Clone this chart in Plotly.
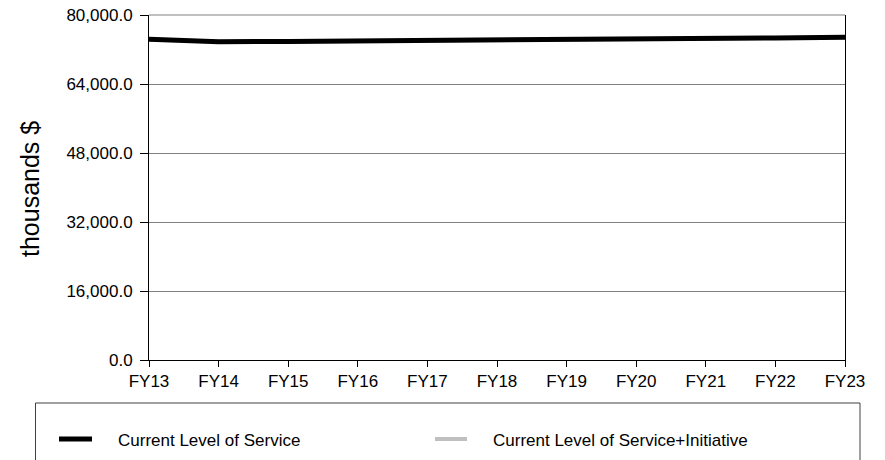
import plotly.graph_objects as go

years = ["FY13", "FY14", "FY15", "FY16", "FY17", "FY18", "FY19", "FY20", "FY21", "FY22", "FY23"]
current_service = [74380, 73780, 73880, 73960, 74050, 74150, 74280, 74400, 74520, 74680, 74840]
service_plus_initiative = [74380, 73780, 73880, 73960, 74050, 74150, 74280, 74400, 74520, 74680, 74840]
series_names = ["Current Level of Service", "Current Level of Service+Initiative"]
y_ticks = [0, 16000, 32000, 48000, 64000, 80000]
y_tick_labels = ["0.0", "16,000.0", "32,000.0", "48,000.0", "64,000.0", "80,000.0"]

W, H = 885, 460
L, R, T, B = 149, 40, 15, 100
PW, PH = W - L - R, H - T - B

def px(x):
    return (x - L) / PW

def py(y):
    return (H - B - y) / PH

FONT = "Liberation Sans, Arial, sans-serif"

fig = go.Figure()
fig.add_trace(go.Scatter(x=years, y=service_plus_initiative, mode="lines",
                         line=dict(color="#c0c0c0", width=4), name=series_names[1],
                         showlegend=False))
fig.add_trace(go.Scatter(x=years, y=current_service, mode="lines",
                         line=dict(color="#000000", width=5), name=series_names[0],
                         showlegend=False))

fig.update_layout(
    width=W, height=H,
    margin=dict(l=L, r=R, t=T, b=B),
    paper_bgcolor="white", plot_bgcolor="white",
    font=dict(family=FONT, size=17, color="#000000"),
    showlegend=False,
    xaxis=dict(
        type="category", range=[0, len(years) - 1], automargin=False,
        showline=True, linecolor="#000000", linewidth=1,
        ticks="outside", ticklen=6, tickcolor="#000000",
        showgrid=False, zeroline=False,
        tickfont=dict(size=17),
    ),
    yaxis=dict(
        range=[0, 80000], tickvals=y_ticks, ticktext=y_tick_labels, automargin=False,
        showline=True, linecolor="#000000", linewidth=1, mirror=True,
        ticks="outside", ticklen=8, tickcolor="#000000",
        ticklabelstandoff=4,
        showgrid=True, gridcolor="#808080", gridwidth=1,
        zeroline=False,
        tickfont=dict(size=17),
    ),
)

# top border (gray)
fig.add_shape(type="line", xref="paper", yref="paper", x0=0, x1=1, y0=1, y1=1,
              line=dict(color="#808080", width=1), layer="below")

# y-axis title
fig.add_annotation(text="thousands $", xref="paper", yref="paper",
                   x=px(30), y=py(189), textangle=-90, showarrow=False,
                   font=dict(size=25, family=FONT), xanchor="center", yanchor="middle")

# legend box
fig.add_shape(type="rect", xref="paper", yref="paper",
              x0=px(35.5), x1=px(860), y0=py(403), y1=py(475),
              line=dict(color="#404040", width=1), fillcolor="rgba(0,0,0,0)")
# legend samples
fig.add_shape(type="line", xref="paper", yref="paper",
              x0=px(59), x1=px(92), y0=py(439), y1=py(439),
              line=dict(color="#000000", width=5))
fig.add_shape(type="line", xref="paper", yref="paper",
              x0=px(435), x1=px(467), y0=py(439), y1=py(439),
              line=dict(color="#c0c0c0", width=4))
fig.add_annotation(text=series_names[0], xref="paper", yref="paper",
                   x=px(116), y=py(440), xanchor="left", yanchor="middle",
                   showarrow=False, font=dict(size=17, family=FONT))
fig.add_annotation(text=series_names[1], xref="paper", yref="paper",
                   x=px(491), y=py(440), xanchor="left", yanchor="middle",
                   showarrow=False, font=dict(size=17, family=FONT))

fig.write_html("out.html")
